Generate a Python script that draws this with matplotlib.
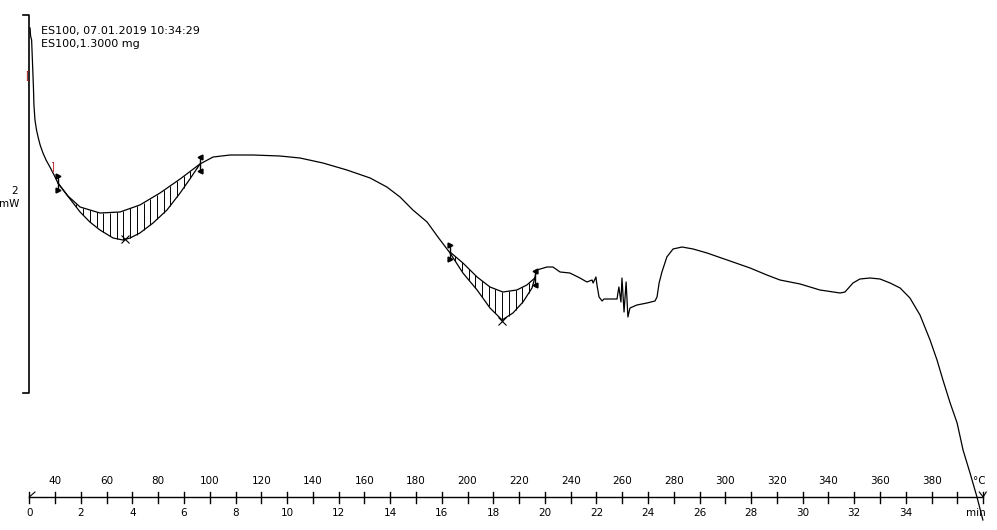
import numpy as np
import matplotlib
matplotlib.use("Agg")
import matplotlib.pyplot as plt

# ---- data (time in min, heat flow in mW, arbitrary offset) ----
time_min = [0.03, 0.05, 0.09, 0.12, 0.16, 0.18, 0.22, 0.28, 0.34, 0.42, 0.53, 0.65, 0.80, 0.96,
            1.11, 1.46, 1.97, 2.35, 2.74, 3.25, 3.63, 3.91, 4.29, 4.80, 5.34, 5.85, 6.23, 6.62,
            7.13, 7.79, 8.68, 9.72, 10.50, 11.39, 12.32, 13.22, 13.87, 14.38, 14.88, 15.43, 15.85,
            16.32, 16.82, 17.37, 17.87, 18.34, 18.76, 19.15, 19.50, 19.69, 20.08, 20.31, 20.59,
            20.97, 21.36, 21.63, 21.83, 21.87, 21.98, 22.02, 22.10, 22.22, 22.29, 22.45, 22.80,
            22.82, 22.87, 22.95, 22.99, 23.07, 23.15, 23.22, 23.30, 23.57, 23.96, 24.27, 24.35,
            24.43, 24.54, 24.73, 24.97, 25.32, 25.75, 26.29, 27.07, 27.96, 28.61, 29.12, 29.90,
            30.67, 31.45, 31.64, 31.95, 32.22, 32.61, 33.00, 33.39, 33.78, 34.16, 34.55, 34.94,
            35.21, 35.44, 35.72, 35.99, 36.22, 36.49, 36.76, 36.99]
heat_flow = [3.67, 3.59, 3.55, 3.35, 3.08, 2.90, 2.75, 2.65, 2.58, 2.50, 2.42, 2.35, 2.28, 2.20,
             2.12, 2.00, 1.83, 1.73, 1.65, 1.57, 1.55, 1.57, 1.62, 1.72, 1.85, 2.02, 2.16, 2.31,
             2.38, 2.40, 2.40, 2.39, 2.37, 2.32, 2.25, 2.17, 2.08, 1.98, 1.85, 1.73, 1.58,
             1.42, 1.22, 1.05, 0.87, 0.75, 0.82, 0.93, 1.07, 1.25, 1.28, 1.28, 1.23,
             1.22, 1.17, 1.13, 1.15, 1.12, 1.18, 1.10, 0.98, 0.94, 0.96, 0.96, 0.96,
             1.00, 1.08, 0.93, 1.17, 0.83, 1.13, 0.78, 0.87, 0.90, 0.92, 0.94, 0.98,
             1.12, 1.23, 1.38, 1.46, 1.48, 1.46, 1.42, 1.35, 1.27, 1.20, 1.15, 1.11,
             1.05, 1.02, 1.03, 1.12, 1.16, 1.17, 1.16, 1.12, 1.07, 0.97, 0.80, 0.55,
             0.35, 0.15, -0.08, -0.28, -0.55, -0.78, -1.02, -1.25]

# integration baselines
base1_t = [1.11, 1.50, 1.97, 2.74, 3.52, 4.29, 5.07, 5.85, 6.62]
base1_v = [2.12, 1.99, 1.88, 1.82, 1.83, 1.90, 2.02, 2.16, 2.31]
base2_t = [16.32, 16.82, 17.37, 17.87, 18.37, 18.91, 19.30, 19.61]
base2_v = [1.43, 1.32, 1.18, 1.08, 1.03, 1.05, 1.10, 1.17]

# peak points
peak_t = [3.72, 18.34]
peak_v = [1.56, 0.74]

# axis tick labels
min_ticks = list(range(0, 38))
min_labels = [str(m) for m in range(0, 36, 2)]
temp_labels = [str(30 + 10 * m) for m in range(1, 36, 2)]

legend_lines = ["ES100, 07.01.2019 10:34:29", "ES100,1.3000 mg"]

# ---- figure ----
W, H = 997, 530
fig = plt.figure(figsize=(W / 100, H / 100), dpi=100)
ax = fig.add_axes([0, 0, 1, 1])
ax.set_xlim(-1.1365, 37.537)
ax.set_ylim(-1.35, 3.95)
ax.axis("off")

FS = 7.5
lw = 0.9
k = "black"

# curve
ax.plot(time_min, heat_flow, color=k, lw=lw, solid_joinstyle="round")

# baselines + hatching
for bt, bv in [(base1_t, base1_v), (base2_t, base2_v)]:
    ax.plot(bt, bv, color=k, lw=lw)
    ts = np.arange(bt[0] + 0.2, bt[-1] - 0.05, 0.26)
    cv = np.interp(ts, time_min, heat_flow)
    bvv = np.interp(ts, bt, bv)
    ax.vlines(ts, np.minimum(cv, bvv), np.maximum(cv, bvv), color=k, lw=0.7)
    # limit markers
    for tt, vv, mk in [(bt[0], bv[0], ">"), (bt[-1], bv[-1], "<")]:
        ax.plot([tt, tt], [vv - 0.08, vv + 0.08], color=k, lw=1.0)
        ax.plot([tt], [vv + 0.07], marker=mk, color=k, ms=3.5, lw=0)
        ax.plot([tt], [vv - 0.07], marker=mk, color=k, ms=3.5, lw=0)

ax.plot(peak_t, peak_v, "x", color=k, ms=6, mew=0.8)

# evaluation range brackets
ax.text(-0.09, 3.20, "[", color="#a01010", fontsize=7, ha="center", va="center")
ax.text(0.88, 2.29, "]", color="#c02020", fontsize=7, ha="center", va="center")

# legend text
ax.text(0.45, 3.64, legend_lines[0], fontsize=8, ha="left", va="center")
ax.text(0.45, 3.51, legend_lines[1], fontsize=8, ha="left", va="center")

# y scale bar
ax.plot([-0.245, 0, 0, -0.245], [3.80, 3.80, 0.02, 0.02], color=k, lw=1.2)
ax.text(-0.44, 2.04, "2", fontsize=FS, ha="right", va="center")
ax.text(-0.40, 1.91, "mW", fontsize=FS, ha="right", va="center")

# bottom axis
yax = -1.02
ax.plot([0, 37], [yax, yax], color=k, lw=1.0)
for m in min_ticks:
    ax.plot([m, m], [yax - 0.055, yax + 0.055], color=k, lw=1.0)
for i, lab in enumerate(min_labels):
    ax.text(2 * i, -1.18, lab, fontsize=FS, ha="center", va="center")
for i, lab in enumerate(temp_labels):
    ax.text(2 * i + 1, -0.857, lab, fontsize=FS, ha="center", va="center")
ax.text(37.1, -1.18, "min", fontsize=FS, ha="right", va="center")
ax.text(37.1, -0.857, "°C", fontsize=FS, ha="right", va="center")
ax.plot([0, 0.22], [yax, yax + 0.05], color=k, lw=0.8)
ax.plot([36.85, 37.0, 37.12], [yax + 0.05, yax, yax + 0.05], color=k, lw=0.8)

fig.savefig("out.png", dpi=100, facecolor="white")
